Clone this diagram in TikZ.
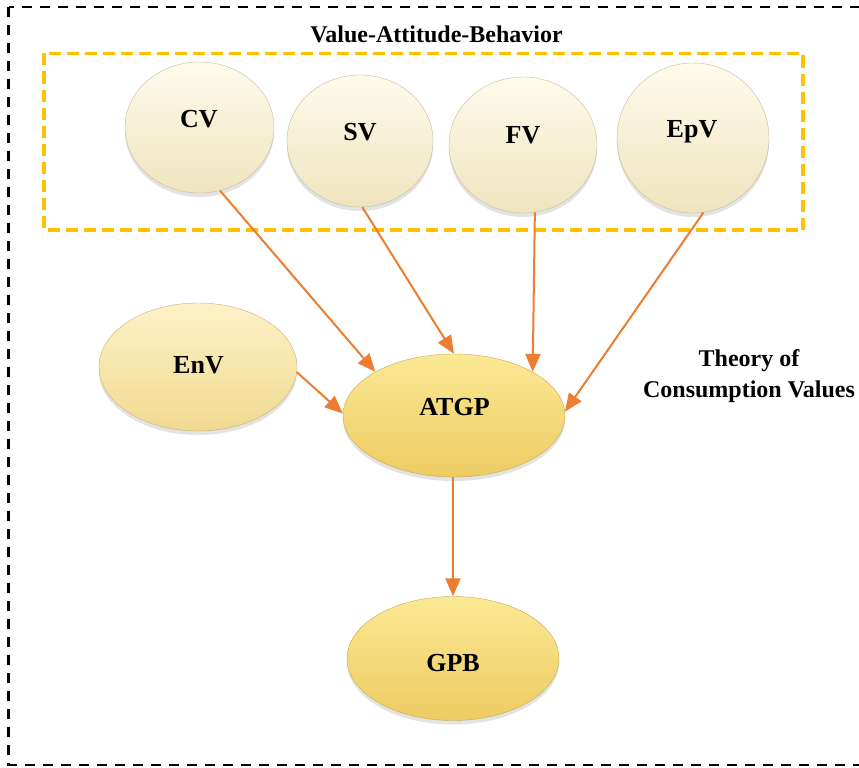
\documentclass[tikz,border=0pt]{standalone}
\usepackage{fontspec}
\setmainfont{Liberation Serif}
\usetikzlibrary{arrows.meta,shadows,calc,shapes.geometric}
\definecolor{arr}{HTML}{ED7D31}
\definecolor{gold}{HTML}{FFC000}
\definecolor{cream}{HTML}{F5EBC4}
\definecolor{creamhi}{HTML}{FFFBEC}
\definecolor{envc}{HTML}{F8E095}
\definecolor{envhi}{HTML}{FDF2C8}
\definecolor{atgpc}{HTML}{F7D466}
\definecolor{atgphi}{HTML}{FCE894}
\tikzset{
  x=1pt, y=-1pt,
  bubble/.style={ellipse, inner sep=0pt, draw=#1!80!black, line width=0.4pt,
     drop shadow={shadow xshift=0pt, shadow yshift=-4pt, opacity=0.22}},
  creamb/.style={bubble=cream, top color=creamhi, middle color=cream, bottom color=cream!97!black},
  envb/.style={bubble=envc, top color=envhi, middle color=envc, bottom color=envc!97!black},
  goldb/.style={bubble=atgpc, top color=atgphi, middle color=atgpc, bottom color=atgpc!96!black},
  lbl/.style={anchor=base, inner sep=0pt, font=\fontsize{26}{30}\selectfont\bfseries},
  ttl/.style={inner sep=0pt, font=\fontsize{24}{31}\selectfont\bfseries},
  link/.style={draw=arr, line width=2pt, -{Triangle[length=18pt,width=15pt]}},
}
\begin{document}
\begin{tikzpicture}
\useasboundingbox (0,0) rectangle (859,768);
\clip (0,0) rectangle (859,768);
\fill[white] (0,0) rectangle (859,768);
% outer frame
\draw[black, line width=2.6pt, dash pattern=on 10pt off 8pt] (8.5,7) rectangle (900,765);
% value-attitude-behavior box
\draw[gold, line width=3.5pt, dash pattern=on 12pt off 6pt] (44,53.5) rectangle (803,230);
\node[ttl, anchor=base] (vab) at (436.5,43) {Value-Attitude-Behavior};
\node[ttl, anchor=base, align=center] (tcv) at (749,397.7) {Theory of\\Consumption Values};

% bubbles
\node[creamb, minimum width=149pt, minimum height=131pt] (cv) at (199.5,127.5) {};
\node[creamb, minimum width=146pt, minimum height=132pt] (sv) at (360,141) {};
\node[creamb, minimum width=148pt, minimum height=136pt] (fv) at (523,145) {};
\node[creamb, minimum width=152pt, minimum height=150pt] (epv) at (693,138) {};
\node[envb, minimum width=198pt, minimum height=128pt] (env) at (198,367) {};
\node[goldb, minimum width=222pt, minimum height=123pt] (atgp) at (454,415.5) {};
\node[goldb, minimum width=212pt, minimum height=124pt] (gpb) at (453,658.5) {};

% labels
\node[lbl] (cvl) at (199,127) {CV};
\node[lbl] (svl) at (360,140) {SV};
\node[lbl] (fvl) at (523,143) {FV};
\node[lbl] (epvl) at (692,137) {EpV};
\node[lbl] (envl) at (198.5,373) {EnV};
\node[lbl] (atgpl) at (454.5,415) {ATGP};
\node[lbl] (gpbl) at (453,671) {GPB};

% connectors
\draw[link] (cv.-72.6) -- (atgp.151);
\draw[link] (sv.-88) -- (atgp.90);
\draw[link] (fv.-80) -- (atgp.29);
\draw[link] (epv.-82) -- (atgp.2);
\draw[link] (env.-3.5) -- (atgp.179);
\draw[link] (atgp.-91.5) -- (gpb.north);
\end{tikzpicture}
\end{document}
